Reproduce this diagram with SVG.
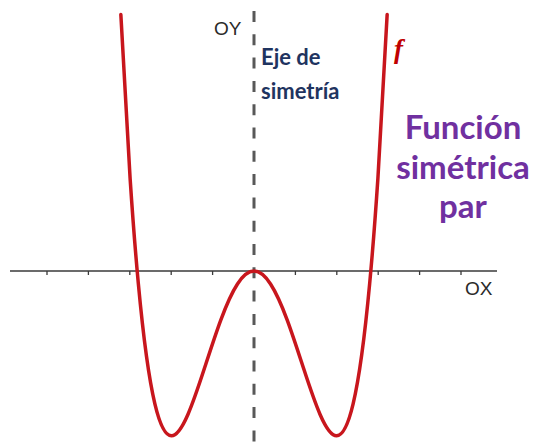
<svg xmlns="http://www.w3.org/2000/svg" width="540" height="446" viewBox="0 0 540 446">
<style>
.axis{stroke:#3a3a3a;stroke-width:1.5;fill:none}
.tick{stroke:#3a3a3a;stroke-width:1.3}
.sym{stroke:#585858;stroke-width:3;stroke-dasharray:11 12.3;fill:none}
.curve{stroke:#c8161d;stroke-width:3.5;fill:none;stroke-linejoin:round;stroke-linecap:round}
.axlab{font-family:"Liberation Sans",Arial,sans-serif;font-size:19px;fill:#2a2a2a}
.eje{font-family:Lato,"Liberation Sans",sans-serif;font-weight:bold;font-size:22px;fill:#1f3460}
.title{font-family:Lato,"Liberation Sans",sans-serif;font-weight:bold;font-size:33px;fill:#7030a0;text-anchor:middle}
.f{font-family:"Liberation Serif",serif;font-style:italic;font-weight:bold;font-size:27px;fill:#c00000}
</style>
<rect width="540" height="446" fill="#ffffff"/>
<g id="connectors">
<line class="axis" x1="10" y1="271" x2="497" y2="271"/>
<g id="ticks">
<line class="tick" x1="47" y1="271" x2="47" y2="275"/>
<line class="tick" x1="88.4" y1="271" x2="88.4" y2="275"/>
<line class="tick" x1="129.8" y1="271" x2="129.8" y2="275"/>
<line class="tick" x1="171.2" y1="271" x2="171.2" y2="275"/>
<line class="tick" x1="212.6" y1="271" x2="212.6" y2="275"/>
<line class="tick" x1="295.4" y1="271" x2="295.4" y2="275"/>
<line class="tick" x1="336.8" y1="271" x2="336.8" y2="275"/>
<line class="tick" x1="378.2" y1="271" x2="378.2" y2="275"/>
<line class="tick" x1="419.6" y1="271" x2="419.6" y2="275"/>
<line class="tick" x1="461" y1="271" x2="461" y2="275"/>
</g>
<line class="sym" x1="254" y1="11" x2="254" y2="446"/>
</g>
<g id="curve-f">
<path class="curve" d="M120.85,14.6 C123.93,78.01 127.02,132.16 130.1,178.3 C132.85,219.5 135.61,254.39 138.36,283.92 C143.87,342.98 149.37,380.69 154.88,403.89 C160.39,427.09 165.89,435.8 171.4,435.8 C176.91,435.8 182.41,427.1 187.92,414.44 C193.43,401.78 198.93,385.18 204.44,368.3 C209.95,351.42 215.45,334.29 220.96,319.52 C226.47,304.75 231.97,292.36 237.48,283.92 C242.99,275.48 248.49,271 254,271 C259.51,271 265.01,275.48 270.52,283.92 C276.03,292.36 281.53,304.75 287.04,319.52 C292.55,334.29 298.05,351.42 303.56,368.3 C309.07,385.18 314.57,401.78 320.08,414.44 C325.59,427.1 331.09,435.8 336.6,435.8 C342.11,435.8 347.61,427.09 353.12,403.89 C358.63,380.69 364.13,342.98 369.64,283.92 C372.39,254.39 375.15,219.5 377.9,178.3 C380.98,132.16 384.07,78.01 387.15,14.6"/>
</g>
<g id="label-oy"><text class="axlab" x="214" y="35">OY</text></g>
<g id="label-ox"><text class="axlab" x="465" y="295">OX</text></g>
<g id="label-eje">
<text class="eje" x="261" y="65">Eje de</text>
<text class="eje" x="261" y="99">simetría</text>
</g>
<g id="label-f"><text class="f" x="394" y="58">f</text></g>
<g id="label-title">
<text class="title" x="463" y="139">Función</text>
<text class="title" x="463" y="179">simétrica</text>
<text class="title" x="463" y="218">par</text>
</g>
</svg>
